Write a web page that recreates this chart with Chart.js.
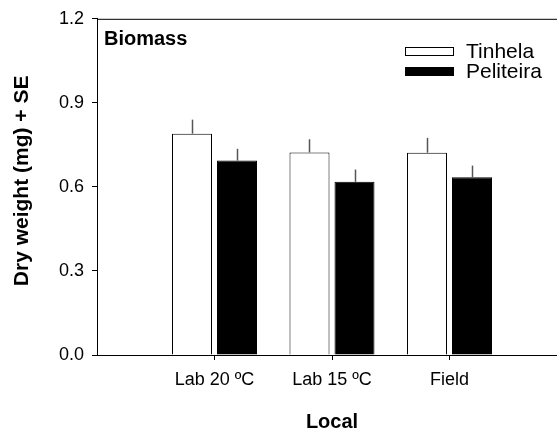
<!DOCTYPE html>
<html><head><meta charset="utf-8">
<script src="https://cdn.jsdelivr.net/npm/chart.js@4.4.1/dist/chart.umd.min.js"></script>
<style>html,body{margin:0;padding:0;overflow:hidden;background:#fff}</style>
</head><body>
<canvas id="c" width="580" height="432" style="display:block;width:580px;height:432px"></canvas>
<script>
const categories = ['', 'Lab 20 ºC', 'Lab 15 ºC', 'Field', ''];
const tinhela = [null, 0.79, 0.723, 0.722, null];
const tinhelaSE = [null, 0.05, 0.047, 0.053, null];
const peliteira = [null, 0.694, 0.618, 0.634, null];
const peliteiraSE = [null, 0.042, 0.044, 0.042, null];
const yTicks = [0, 0.3, 0.6, 0.9, 1.2];
const seriesNames = ['Tinhela', 'Peliteira'];
const panelLabel = 'Biomass';
const yTitle = 'Dry weight (mg) + SE';
const xTitle = 'Local';

const FONT = "'Liberation Sans', Arial, sans-serif";

const errorBars = {
  id: 'errorBars',
  afterDatasetsDraw(chart) {
    const ctx = chart.ctx, ys = chart.scales.y;
    ctx.save();
    ctx.strokeStyle = '#555';
    ctx.lineWidth = 1.5;
    chart.data.datasets.forEach((ds, i) => {
      const meta = chart.getDatasetMeta(i);
      meta.data.forEach((el, j) => {
        const v = ds.data[j];
        if (v == null) return;
        const top = ys.getPixelForValue(v + ds.errors[j]);
        ctx.beginPath();
        ctx.moveTo(Math.round(el.x) + 0.5, el.y);
        ctx.lineTo(Math.round(el.x) + 0.5, top);
        ctx.stroke();
      });
    });
    ctx.restore();
  }
};

const frameAndText = {
  id: 'frameAndText',
  afterDraw(chart) {
    const ctx = chart.ctx, a = chart.chartArea;
    ctx.save();
    ctx.strokeStyle = '#000';
    ctx.lineWidth = 1;
    ctx.beginPath();
    ctx.moveTo(a.left, a.top + 0.5);
    ctx.lineTo(a.right, a.top + 0.5);
    ctx.stroke();
    // y axis title
    ctx.save();
    ctx.translate(22, a.top + (a.bottom - a.top) / 2 - 6);
    ctx.rotate(-Math.PI / 2);
    ctx.fillStyle = '#000';
    ctx.font = "bold 21px " + FONT;
    ctx.textAlign = 'center';
    ctx.textBaseline = 'middle';
    ctx.fillText(yTitle, 0, 0);
    ctx.restore();
    // panel label
    ctx.fillStyle = '#000';
    ctx.font = "bold 20px " + FONT;
    ctx.textBaseline = 'middle';
    ctx.textAlign = 'left';
    ctx.fillText(panelLabel, a.left + 7, 39);
    // legend
    ctx.font = "21px " + FONT;
    chart.data.datasets.forEach((ds, i) => {
      const y = 47 + i * 20;
      ctx.fillStyle = ds.backgroundColor;
      ctx.fillRect(405, y, 49, 9);
      ctx.strokeStyle = '#000';
      ctx.strokeRect(405.5, y + 0.5, 48, 8);
      ctx.fillStyle = '#000';
      ctx.fillText(ds.label, 466, y + 5);
    });
    ctx.restore();
  }
};

new Chart(document.getElementById('c'), {
  type: 'bar',
  data: {
    labels: categories,
    datasets: [
      { label: seriesNames[0], data: tinhela, errors: tinhelaSE, backgroundColor: '#ffffff', borderColor: '#000', borderWidth: 1 },
      { label: seriesNames[1], data: peliteira, errors: peliteiraSE, backgroundColor: '#000000', borderColor: '#000', borderWidth: 1 }
    ]
  },
  options: {
    responsive: false,
    animation: false,
    categoryPercentage: 0.766,
    barPercentage: 0.889,
    layout: { padding: { left: 0, top: 16, right: 13, bottom: 0 } },
    plugins: { legend: { display: false }, tooltip: { enabled: false } },
    scales: {
      x: {
        type: 'category',
        offset: false,
        afterFit(s) { s.height = 77; },
        grid: {
          offset: false, drawOnChartArea: false, drawTicks: true, tickLength: 5,
          color: (c) => (c.index === 0 || c.index === categories.length - 1) ? 'rgba(0,0,0,0)' : '#000'
        },
        border: { display: true, color: '#000', width: 1 },
        ticks: { autoSkip: false, maxRotation: 0, padding: 9, color: '#000', font: { family: FONT, size: 18 } },
        title: { display: true, text: xTitle, color: '#000', font: { family: FONT, size: 20, weight: 'bold', lineHeight: 1.0 }, padding: { top: 0, bottom: 0 } }
      },
      y: {
        min: 0, max: 1.2,
        afterFit(s) { s.width = 97; },
        afterBuildTicks(s) { s.ticks = yTicks.map(v => ({ value: v })); },
        grid: { drawOnChartArea: false, drawTicks: true, tickLength: 5, color: '#000' },
        border: { display: true, color: '#000', width: 1 },
        ticks: { padding: 8, color: '#000', font: { family: FONT, size: 18 }, callback: (v) => Number(v).toFixed(1) },
        title: { display: false }
      }
    }
  },
  plugins: [errorBars, frameAndText]
});
</script>
</body></html>
